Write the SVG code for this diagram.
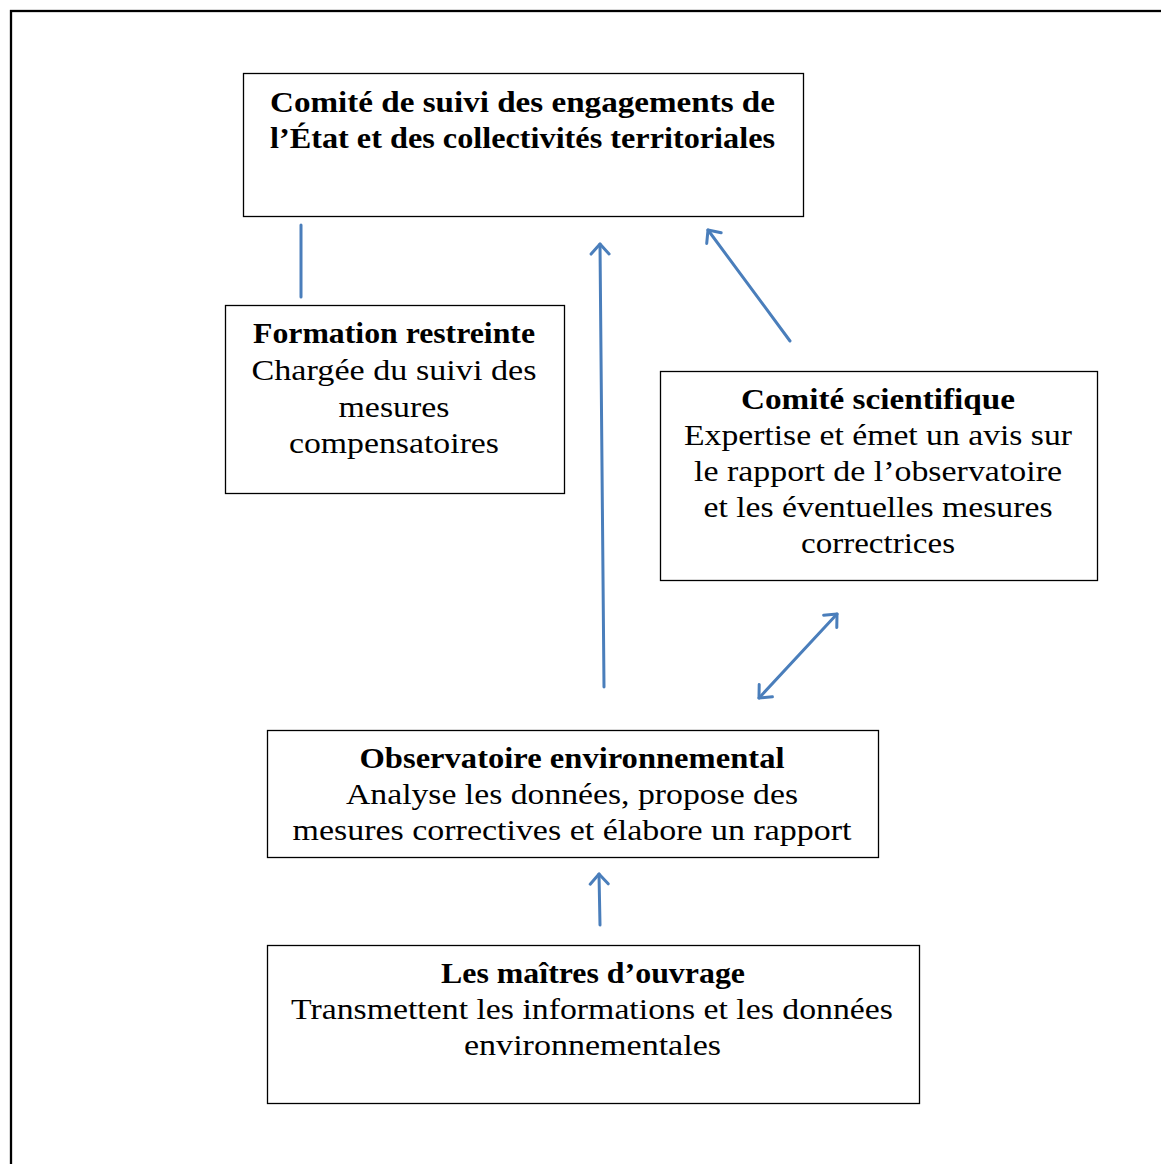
<svg xmlns="http://www.w3.org/2000/svg" width="1161" height="1164" viewBox="0 0 1161 1164">
<defs>
<style>
.box{fill:#fff;stroke:#000;stroke-width:1.3}
text{font-family:"Liberation Serif",serif;font-size:29px;fill:#000;text-anchor:middle}
.b{font-weight:bold}
.c{fill:none;stroke:#4a7ebb;stroke-width:3;stroke-linecap:round}
</style>
<marker id="ah" viewBox="0 0 24 24" refX="12" refY="12" markerWidth="24" markerHeight="24" markerUnits="userSpaceOnUse" orient="auto-start-reverse">
<path d="M2,3 L12,12 L2,21" fill="none" stroke="#4a7ebb" stroke-width="3" stroke-linecap="round" stroke-linejoin="round"/>
</marker>
</defs>
<rect x="11" y="11" width="1160" height="1170" fill="none" stroke="#000" stroke-width="2.3"/>
<g id="comite-suivi">
<rect class="box" x="243.5" y="73.5" width="560" height="143"/>
<text x="522.5" y="112" class="b" textLength="505" lengthAdjust="spacingAndGlyphs">Comité de suivi des engagements de</text>
<text x="522.5" y="148" class="b" textLength="505" lengthAdjust="spacingAndGlyphs">l’État et des collectivités territoriales</text>
</g>
<g id="formation">
<rect class="box" x="225.5" y="305.5" width="339" height="188"/>
<text x="394" y="343" class="b" textLength="282" lengthAdjust="spacingAndGlyphs">Formation restreinte</text>
<text x="394" y="380" textLength="285" lengthAdjust="spacingAndGlyphs">Chargée du suivi des</text>
<text x="394" y="417" textLength="111" lengthAdjust="spacingAndGlyphs">mesures</text>
<text x="394" y="453" textLength="210" lengthAdjust="spacingAndGlyphs">compensatoires</text>
</g>
<g id="comite-scientifique">
<rect class="box" x="660.5" y="371.5" width="437" height="209"/>
<text x="878" y="409" class="b" textLength="274" lengthAdjust="spacingAndGlyphs">Comité scientifique</text>
<text x="878" y="445" textLength="388" lengthAdjust="spacingAndGlyphs">Expertise et émet un avis sur</text>
<text x="878" y="481" textLength="368" lengthAdjust="spacingAndGlyphs">le rapport de l’observatoire</text>
<text x="878" y="517" textLength="349" lengthAdjust="spacingAndGlyphs">et les éventuelles mesures</text>
<text x="878" y="553" textLength="154" lengthAdjust="spacingAndGlyphs">correctrices</text>
</g>
<g id="observatoire">
<rect class="box" x="267.5" y="730.5" width="611" height="127"/>
<text x="572" y="768" class="b" textLength="425" lengthAdjust="spacingAndGlyphs">Observatoire environnemental</text>
<text x="572" y="804" textLength="452" lengthAdjust="spacingAndGlyphs">Analyse les données, propose des</text>
<text x="572" y="840" textLength="559" lengthAdjust="spacingAndGlyphs">mesures correctives et élabore un rapport</text>
</g>
<g id="maitres">
<rect class="box" x="267.5" y="945.5" width="652" height="158"/>
<text x="593" y="983" class="b" textLength="304" lengthAdjust="spacingAndGlyphs">Les maîtres d’ouvrage</text>
<text x="592" y="1019" textLength="602" lengthAdjust="spacingAndGlyphs">Transmettent les informations et les données</text>
<text x="592.5" y="1055" textLength="257" lengthAdjust="spacingAndGlyphs">environnementales</text>
</g>
<g id="connectors">
<line class="c" x1="301" y1="225" x2="301" y2="297"/>
<line class="c" x1="604" y1="687" x2="600" y2="244" marker-end="url(#ah)"/>
<line class="c" x1="790" y1="341" x2="708" y2="230" marker-end="url(#ah)"/>
<line class="c" x1="759" y1="698" x2="837" y2="614" marker-start="url(#ah)" marker-end="url(#ah)"/>
<line class="c" x1="600" y1="925" x2="599" y2="874" marker-end="url(#ah)"/>
</g>
</svg>
